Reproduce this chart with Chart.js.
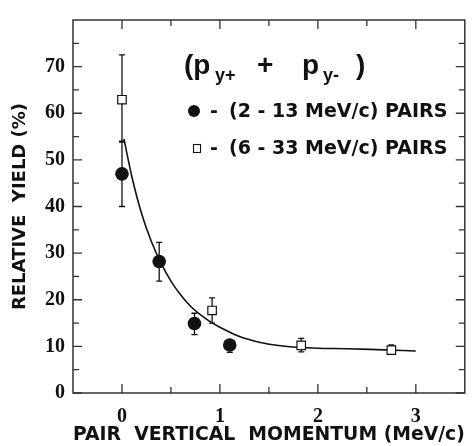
<!DOCTYPE html>
<html>
<head>
<meta charset="utf-8">
<script src="https://cdn.jsdelivr.net/npm/chart.js@4"></script>
<style>
  html, body { margin: 0; padding: 0; background: #fff; }
  #wrap { width: 472px; height: 446px; }
</style>
</head>
<body>
<div id="wrap"><canvas id="c" width="472" height="446"></canvas></div>
<script>
// ---- data ----
const circleX    = [0.0, 0.38, 0.74, 1.10];
const circleY    = [47.0, 28.2, 14.9, 10.3];
const circleLow  = [40.0, 24.0, 12.5, 8.7];
const circleHigh = [54.0, 32.3, 17.1, 11.0];

const squareX    = [0.0, 0.92, 1.83, 2.75];
const squareY    = [62.9, 17.7, 10.2, 9.2];
const squareLow  = [53.8, 15.0, 8.8, 8.3];
const squareHigh = [72.5, 20.4, 11.7, 10.3];

const curveX = [0.02, 0.1, 0.2, 0.3, 0.4, 0.5, 0.6, 0.7, 0.8, 0.9, 1.0, 1.2, 1.4, 1.6, 1.8, 2.0, 2.3, 2.6, 3.0];
const curveY = [54.5, 46.5, 38.5, 32.5, 27.8, 24.0, 21.0, 18.6, 16.8, 15.3, 14.1, 12.1, 10.9, 10.2, 9.8, 9.6, 9.5, 9.3, 9.0];

const xTickValues = [0, 1, 2, 3];
const xMinorValues = [0.5, 1.5, 2.5];
const yTickValues = [0, 10, 20, 30, 40, 50, 60, 70];
const yMinorValues = [5, 15, 25, 35, 45, 55, 65, 75];

// legend title pieces: [text, isSubscript]
const legendTitle = [['(p', false], ['y+', true], ['+', false], ['p', false], ['y-', true], [')', false]];
const legendItems = ['(2 - 13 MeV/c) PAIRS', '(6 - 33 MeV/c) PAIRS'];

const xTitle = 'PAIR  VERTICAL  MOMENTUM (MeV/c)';
const yTitle = 'RELATIVE  YIELD (%)';

const toXY = (xs, ys) => xs.map((x, i) => ({ x: x, y: ys[i] }));

const SANS = '"Liberation Sans", Arial, sans-serif';
const WIDE = '"DejaVu Sans", "Liberation Sans", sans-serif';
const SERIF = '"Liberation Serif", "Times New Roman", serif';
const INK = '#111';

const frameAndTicks = {
  id: 'frameAndTicks',
  beforeDatasetsDraw(chart) {
    const { ctx, scales: { x, y } } = chart;
    ctx.save();
    ctx.strokeStyle = INK;
    ctx.lineWidth = 1.3;
    const bars = (xs, lo, hi) => {
      xs.forEach((xv, i) => {
        const px = x.getPixelForValue(xv);
        const p1 = y.getPixelForValue(lo[i]);
        const p2 = y.getPixelForValue(hi[i]);
        ctx.beginPath();
        ctx.moveTo(px, p1); ctx.lineTo(px, p2);
        ctx.moveTo(px - 3, p1); ctx.lineTo(px + 3, p1);
        ctx.moveTo(px - 3, p2); ctx.lineTo(px + 3, p2);
        ctx.stroke();
      });
    };
    bars(circleX, circleLow, circleHigh);
    bars(squareX, squareLow, squareHigh);
    ctx.restore();
  },
  afterDraw(chart) {
    const { ctx, chartArea: a, scales: { x, y } } = chart;
    ctx.save();
    ctx.strokeStyle = '#333';
    ctx.lineWidth = 1.5;
    ctx.strokeRect(a.left, a.top, a.right - a.left, a.bottom - a.top);
    ctx.lineWidth = 1.3;
    ctx.beginPath();
    const major = 9, minor = 6;
    xTickValues.forEach(v => {
      const p = x.getPixelForValue(v);
      ctx.moveTo(p, a.bottom); ctx.lineTo(p, a.bottom - major);
      ctx.moveTo(p, a.top); ctx.lineTo(p, a.top + major);
    });
    xMinorValues.forEach(v => {
      const p = x.getPixelForValue(v);
      ctx.moveTo(p, a.bottom); ctx.lineTo(p, a.bottom - minor);
      ctx.moveTo(p, a.top); ctx.lineTo(p, a.top + minor);
    });
    yTickValues.forEach(v => {
      const p = y.getPixelForValue(v);
      ctx.moveTo(a.left, p); ctx.lineTo(a.left + major, p);
      ctx.moveTo(a.right, p); ctx.lineTo(a.right - major, p);
    });
    yMinorValues.forEach(v => {
      const p = y.getPixelForValue(v);
      ctx.moveTo(a.left, p); ctx.lineTo(a.left + minor, p);
      ctx.moveTo(a.right, p); ctx.lineTo(a.right - minor, p);
    });
    ctx.stroke();

    // legend title with subscripts
    ctx.fillStyle = INK;
    ctx.textBaseline = 'alphabetic';
    ctx.textAlign = 'left';
    const titleX = [184, 215, 257, 302, 323, 356];
    const base = 74;
    legendTitle.forEach(([t, sub], i) => {
      ctx.font = sub ? 'bold 18px ' + SANS : 'bold 28px ' + SANS;
      ctx.fillText(t, titleX[i], sub ? base + 7 : base);
    });

    // legend items
    ctx.textBaseline = 'middle';
    ctx.beginPath();
    ctx.arc(194, 111, 6, 0, Math.PI * 2);
    ctx.fill();
    ctx.fillStyle = '#fff';
    ctx.fillRect(193.5, 144.5, 7, 8);
    ctx.strokeStyle = INK;
    ctx.lineWidth = 1.1;
    ctx.strokeRect(193.5, 144.5, 7, 8);
    ctx.fillStyle = INK;
    ctx.font = 'bold 19px ' + WIDE;
    ctx.fillText('-', 210, 112);
    ctx.fillText('-', 210, 149);
    ctx.fillText(legendItems[0], 229, 112);
    ctx.fillText(legendItems[1], 229, 149);
    ctx.restore();
  }
};

new Chart(document.getElementById('c'), {
  type: 'scatter',
  data: {
    datasets: [
      {
        label: 'squares',
        data: toXY(squareX, squareY),
        pointStyle: 'rect',
        pointRadius: 6,
        pointBackgroundColor: '#fff',
        pointBorderColor: INK,
        pointBorderWidth: 1.2
      },
      {
        label: 'circles',
        data: toXY(circleX, circleY),
        pointStyle: 'circle',
        pointRadius: 6.8,
        pointBackgroundColor: INK,
        pointBorderColor: INK,
        pointBorderWidth: 0
      },
      {
        label: 'fit',
        type: 'line',
        data: toXY(curveX, curveY),
        borderColor: INK,
        borderWidth: 1.6,
        pointRadius: 0,
        tension: 0.4,
        cubicInterpolationMode: 'monotone',
        fill: false
      }
    ]
  },
  options: {
    responsive: false,
    animation: false,
    devicePixelRatio: 1,
    layout: { padding: { left: 0, right: 6, top: 10, bottom: 0 } },
    plugins: { legend: { display: false }, tooltip: { enabled: false } },
    scales: {
      x: {
        type: 'linear',
        min: -0.5, max: 3.5,
        afterBuildTicks: s => { s.ticks = xTickValues.map(v => ({ value: v })); },
        afterFit: s => { s.height = 53; },
        grid: { display: false, drawTicks: false },
        border: { display: false },
        ticks: {
          color: INK, padding: 12,
          font: { family: SERIF, size: 20, weight: 'bold' },
          maxRotation: 0
        },
        title: {
          display: true, text: xTitle, color: INK,
          font: { family: WIDE, size: 19, weight: 'bold' },
          padding: { top: 0, bottom: 0 }
        }
      },
      y: {
        type: 'linear',
        min: 0, max: 80,
        afterBuildTicks: s => { s.ticks = yTickValues.map(v => ({ value: v })); },
        afterFit: s => { s.width = 73; },
        grid: { display: false, drawTicks: false },
        border: { display: false },
        ticks: {
          color: INK, padding: 8,
          font: { family: SERIF, size: 20, weight: 'bold' }
        },
        title: {
          display: true, text: yTitle, color: INK,
          font: { family: WIDE, size: 18, weight: 'bold' },
          padding: { top: 10, bottom: 0 }
        }
      }
    }
  },
  plugins: [frameAndTicks]
});
</script>
</body>
</html>
